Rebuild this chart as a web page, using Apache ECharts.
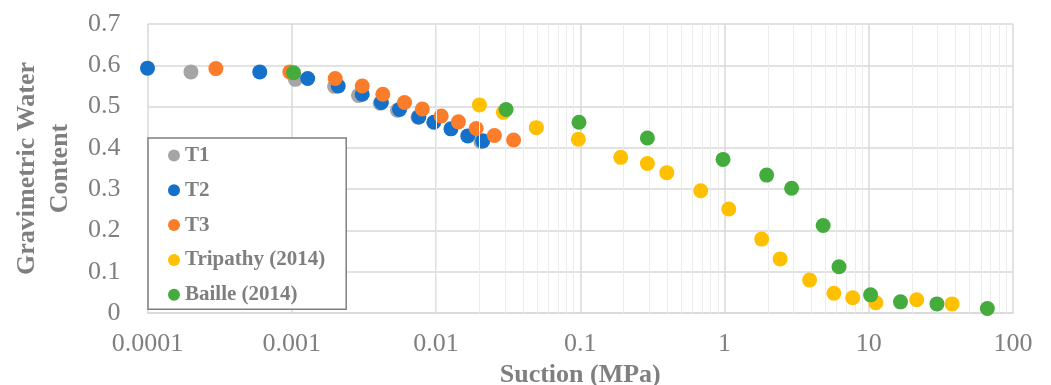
<!DOCTYPE html>
<html>
<head>
<meta charset="utf-8">
<script src="https://cdn.jsdelivr.net/npm/echarts@6/dist/echarts.min.js"></script>
<style>
html, body { margin: 0; padding: 0; background: #fff; }
#chart { width: 1051px; height: 385px; }
</style>
</head>
<body>
<div id="chart"></div>
<script>
// suction (MPa) / gravimetric water content
var t1Suction = [0.0002, 0.00106, 0.00198, 0.0029, 0.0041, 0.0054, 0.0075, 0.0205];
var t1Water   = [0.584, 0.566, 0.549, 0.527, 0.508, 0.491, 0.474, 0.415];

var t2Suction = [0.0001, 0.0006, 0.00129, 0.0021, 0.00308, 0.00418, 0.00559, 0.0076, 0.00966, 0.0127, 0.0166, 0.0211];
var t2Water   = [0.593, 0.584, 0.568, 0.550, 0.530, 0.510, 0.493, 0.475, 0.462, 0.446, 0.429, 0.417];

var t3Suction = [0.000298, 0.00097, 0.002, 0.00308, 0.00428, 0.00605, 0.00804, 0.01086, 0.0143, 0.019, 0.0254, 0.0345];
var t3Water   = [0.592, 0.584, 0.568, 0.550, 0.530, 0.510, 0.494, 0.477, 0.463, 0.447, 0.430, 0.419];

var tripSuction = [0.02, 0.0293, 0.0496, 0.097, 0.191, 0.292, 0.398, 0.684, 1.07, 1.81, 2.43, 3.89, 5.73, 7.74, 11.2, 21.5, 37.8];
var tripWater   = [0.504, 0.486, 0.449, 0.421, 0.377, 0.362, 0.340, 0.296, 0.252, 0.179, 0.131, 0.080, 0.048, 0.037, 0.025, 0.032, 0.022];

var baillSuction = [0.00103, 0.0306, 0.098, 0.292, 0.977, 1.96, 2.92, 4.83, 6.22, 10.3, 16.6, 29.7, 66.4];
var baillWater   = [0.582, 0.493, 0.462, 0.424, 0.372, 0.334, 0.302, 0.212, 0.112, 0.044, 0.027, 0.022, 0.011];

var seriesNames = ['T1', 'T2', 'T3', 'Tripathy (2014)', 'Baille (2014)'];
var seriesColors = ['#a5a5a5', '#1570c9', '#fb7d2a', '#ffc000', '#43ac3d'];
var xTickLabels = ['0.0001', '0.001', '0.01', '0.1', '1', '10', '100'];

// minor log gridlines 2..9 in each decade
var minorX = [];
for (var d = -4; d < 2; d++) {
	for (var m = 2; m <= 9; m++) {
		minorX.push({xAxis: m * Math.pow(10, d)});
	}
}

function pairs(xs, ys) {
	var out = [];
	for (var i = 0; i < xs.length; i++) out.push([xs[i], ys[i]]);
	return out;
}

var allData = [
	pairs(t1Suction, t1Water),
	pairs(t2Suction, t2Water),
	pairs(t3Suction, t3Water),
	pairs(tripSuction, tripWater),
	pairs(baillSuction, baillWater)
];

var font = 'Liberation Serif, Times New Roman, serif';
var grey = '#7f7f7f';

var series = [{
	name: 'minor',
	type: 'scatter',
	data: [],
	silent: true,
	z: 1,
	markLine: {
		silent: true,
		symbol: ['none', 'none'],
		label: {show: false},
		animation: false,
		lineStyle: {type: 'solid', color: '#ececec', width: 1},
		data: minorX
	}
}];
for (var s = 0; s < seriesNames.length; s++) {
	series.push({
		name: seriesNames[s],
		type: 'scatter',
		symbolSize: 15,
		itemStyle: {color: seriesColors[s], opacity: 1},
		data: allData[s],
		z: 2 + s
	});
}

var option = {
	animation: false,
	grid: {left: 147.5, right: 38, top: 24, bottom: 72, containLabel: false, outerBoundsMode: 'none'},
	legend: {
		data: seriesNames,
		orient: 'vertical',
		left: 148,
		top: 138,
		icon: 'circle',
		itemWidth: 12,
		itemHeight: 12,
		itemGap: 13.8,
		padding: [7, 21, 4, 20],
		backgroundColor: '#fff',
		borderColor: grey,
		borderWidth: 1.5,
		borderRadius: 0,
		textStyle: {fontFamily: font, fontWeight: 'bold', fontSize: 21, color: grey, lineHeight: 20}
	},
	xAxis: {
		type: 'log',
		logBase: 10,
		min: 0.0001,
		max: 100,
		name: 'Suction (MPa)',
		nameLocation: 'middle',
		nameGap: 43,
		nameTextStyle: {fontFamily: font, fontWeight: 'bold', fontSize: 26, color: grey},
		axisLine: {show: true, lineStyle: {color: '#d9d9d9', width: 1.5}},
		axisTick: {show: false},
		axisLabel: {
			fontFamily: font, fontSize: 26, color: grey, margin: 18,
			formatter: function (v) {
				return xTickLabels[Math.round(Math.log10(v)) + 4];
			}
		},
		splitLine: {show: true, lineStyle: {color: '#d9d9d9', width: 1.5}}
	},
	yAxis: {
		type: 'value',
		min: 0,
		max: 0.7,
		interval: 0.1,
		name: 'Gravimetric Water\nContent',
		nameLocation: 'middle',
		nameRotate: 90,
		nameGap: 69,
		nameTextStyle: {fontFamily: font, fontWeight: 'bold', fontSize: 26, color: grey, lineHeight: 33},
		axisLine: {show: false},
		axisTick: {show: false},
		axisLabel: {
			fontFamily: font, fontSize: 26, color: grey, margin: 27,
			formatter: function (v) { return v === 0 ? '0' : v.toFixed(1); }
		},
		splitLine: {show: true, lineStyle: {color: '#d9d9d9', width: 1.5}}
	},
	series: series
};

var myChart = echarts.init(document.getElementById('chart'));
myChart.setOption(option);
</script>
</body>
</html>
